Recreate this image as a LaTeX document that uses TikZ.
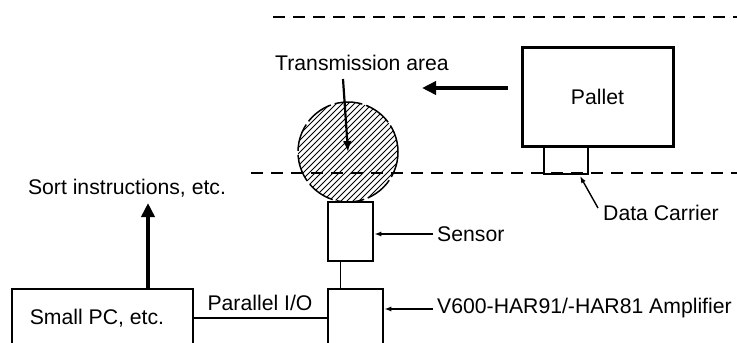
\documentclass[tikz,border=0pt]{standalone}
\usepackage{fontspec}
\setmainfont{Liberation Sans}
\usetikzlibrary{arrows.meta}
\begin{document}
\begin{tikzpicture}[x=1pt,y=-1pt,
  lbl/.style={font=\fontsize{21.2}{25}\selectfont, inner sep=0pt},
  thickbox/.style={draw, line width=3pt, rectangle, inner sep=0pt},
  thinline/.style={line width=1.4pt},
  bigarrow/.style={line width=4pt, -{Triangle[length=14pt,width=13pt]}},
  dashln/.style={line width=1.6pt, dash pattern=on 12pt off 8pt},
  pointer/.style={thinline, {Latex[length=7pt,width=5pt]}-},
]
\useasboundingbox (0,0) rectangle (737,343);
\clip (0,0) rectangle (737,343);
% dashed lines
\coordinate (t1) at (273,17);
\coordinate (t2) at (737,17);
\coordinate (b1) at (251,173);
\coordinate (b2) at (737,173);
\draw[dashln] (t1) -- (t2);
\draw[dashln] (b1) -- (b2);
% transmission area
\begin{scope}
  \clip (348,152) circle (50pt);
  \foreach \i in {-126,-120,...,126}
    \draw[line width=1pt] (348+\i-60,212) -- (348+\i+60,92);
\end{scope}
\node[circle, minimum size=100pt, inner sep=0pt, draw, line width=1.5pt,
  dash pattern=on 28pt off 4pt] (area) at (348,152) {};
% boxes
\node[thickbox, minimum width=151pt, minimum height=99pt, lbl] (pallet) at (597.5,96.5) {Pallet};
\node[thickbox, line width=2.5pt, minimum width=44pt, minimum height=28pt] (dc) at (566,160) {};
\node[thickbox, line width=2.5pt, minimum width=45pt, minimum height=59pt] (sensor) at (350.5,231.5) {};
\node[thickbox, line width=2.5pt, minimum width=55pt, minimum height=80pt] (amp) at (355.5,329) {};
\node[thickbox, line width=2.5pt, minimum width=181pt, minimum height=80pt] (pc) at (102.5,329) {};
% texts
\node[lbl] (pctext) at (97,318) {Small PC, etc.};
\node[lbl] (tatext) at (362,63) {Transmission area};
\node[lbl] (sorttext) at (127,188) {Sort instructions, etc.};
\node[lbl] (piotext) at (260,303) {Parallel I/O};
\node[lbl, anchor=west] (sensortext) at (437,234) {Sensor};
\node[lbl, anchor=west] (amptext) at (437,308) {V600-HAR91/-HAR81 Amplifier};
\node[lbl, anchor=west] (dctext) at (603,213) {Data Carrier};
% connectors
\coordinate (mv1) at (508,88);
\coordinate (mv2) at (422,88);
\draw[bigarrow, line width=3.5pt] (mv1) -- (mv2);
\draw[bigarrow] (pc.north -| 148,0) -- (148,203) coordinate (sorttip);
\draw[line width=2.2pt, -{Latex[length=11pt,width=9pt]}] (343,79) -- (area.center);
\draw[thinline] ([xshift=-10pt]sensor.south) -- ([xshift=-10pt]sensor.south |- amp.north);
\draw[thinline] (pc.east |- 0,318) -- (amp.west |- 0,318);
\draw[pointer] (sensor.east |- 0,234) -- ([xshift=-4pt]sensortext.west);
\draw[pointer] (amp.east |- 0,309) -- ([xshift=-4pt]amptext.west |- 0,309);
\coordinate (dcend) at (598,208);
\draw[pointer] (580,176) -- (dcend);
\end{tikzpicture}
\end{document}
